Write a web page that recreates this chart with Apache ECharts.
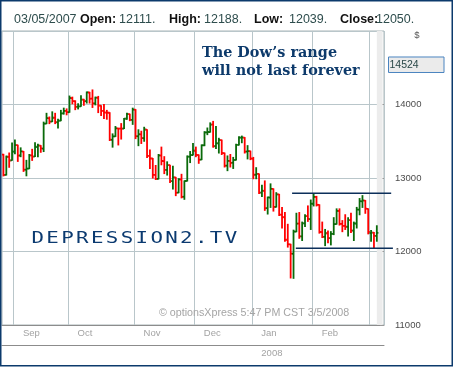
<!DOCTYPE html>
<html><head><meta charset="utf-8">
<script src="https://cdn.jsdelivr.net/npm/echarts@6/dist/echarts.min.js"></script>
<style>html,body{margin:0;padding:0;background:#fff;overflow:hidden}#c{width:454px;height:367px}</style>
</head><body><div id="c"></div>
<script>
// ---------- data ----------
const dates = [
'2007-08-28','2007-08-29','2007-08-30','2007-08-31',
'2007-09-04','2007-09-05','2007-09-06','2007-09-07','2007-09-10','2007-09-11','2007-09-12','2007-09-13','2007-09-14',
'2007-09-17','2007-09-18','2007-09-19','2007-09-20','2007-09-21','2007-09-24','2007-09-25','2007-09-26','2007-09-27','2007-09-28',
'2007-10-01','2007-10-02','2007-10-03','2007-10-04','2007-10-05','2007-10-08','2007-10-09','2007-10-10','2007-10-11','2007-10-12',
'2007-10-15','2007-10-16','2007-10-17','2007-10-18','2007-10-19','2007-10-22','2007-10-23','2007-10-24','2007-10-25','2007-10-26',
'2007-10-29','2007-10-30','2007-10-31',
'2007-11-01','2007-11-02','2007-11-05','2007-11-06','2007-11-07','2007-11-08','2007-11-09','2007-11-12','2007-11-13','2007-11-14',
'2007-11-15','2007-11-16','2007-11-19','2007-11-20','2007-11-21','2007-11-23','2007-11-26','2007-11-27','2007-11-28','2007-11-29','2007-11-30',
'2007-12-03','2007-12-04','2007-12-05','2007-12-06','2007-12-07','2007-12-10','2007-12-11','2007-12-12','2007-12-13','2007-12-14',
'2007-12-17','2007-12-18','2007-12-19','2007-12-20','2007-12-21','2007-12-24','2007-12-26','2007-12-27','2007-12-28','2007-12-31',
'2008-01-02','2008-01-03','2008-01-04','2008-01-07','2008-01-08','2008-01-09','2008-01-10','2008-01-11','2008-01-14','2008-01-15',
'2008-01-16','2008-01-17','2008-01-18','2008-01-22','2008-01-23','2008-01-24','2008-01-25','2008-01-28','2008-01-29','2008-01-30','2008-01-31',
'2008-02-01','2008-02-04','2008-02-05','2008-02-06','2008-02-07','2008-02-08','2008-02-11','2008-02-12','2008-02-13','2008-02-14',
'2008-02-15','2008-02-19','2008-02-20','2008-02-21','2008-02-22','2008-02-25','2008-02-26','2008-02-27','2008-02-28','2008-02-29',
'2008-03-03','2008-03-04','2008-03-05'
];
const open = [
13318,13043,13287,13240,
13358,13446,13306,13360,13113,13128,13308,13293,13420,
13440,13400,13740,13812,13768,13820,13757,13780,13880,13912,
13895,14087,14045,13970,13975,14065,14045,14163,14080,14015,
14090,13984,13912,13890,13888,13520,13566,13675,13673,13672,
13806,13868,13792,
13930,13568,13594,13542,13658,13300,13265,13042,12988,13306,
13230,13110,13175,12958,13008,12800,12980,12745,12960,13289,13313,
13371,13313,13250,13445,13620,13625,13728,13433,13472,13516,
13339,13168,13232,13208,13246,13450,13549,13550,13360,13365,
13262,13044,13056,12801,12826,12590,12734,12852,12606,12777,
12500,12467,12160,12098,11970,12270,12380,12206,12384,12480,12440,
12650,12743,12635,12265,12200,12248,12182,12241,12373,12552,
12376,12349,12336,12427,12285,12381,12570,12683,12693,12580,
12250,12257,12212
];
const high = [
13322,13298,13340,13476,
13517,13446,13410,13360,13240,13320,13390,13480,13460,
13440,13760,13880,13830,13900,13880,13800,13920,13950,13940,
14115,14100,14050,14010,14120,14070,14170,14165,14198,14100,
14110,13984,14000,13920,13888,13600,13700,13675,13740,13810,
13880,13868,13950,
13930,13656,13636,13690,13658,13380,13265,13170,13320,13420,
13290,13220,13175,13160,13008,12990,13050,12960,13300,13360,13470,
13420,13313,13450,13630,13680,13750,13770,13700,13540,13516,
13339,13300,13320,13280,13460,13560,13570,13550,13440,13365,
13280,13140,13056,12900,12960,12740,12920,12852,12800,12777,
12600,12530,12370,12098,12290,12520,12530,12400,12500,12620,12700,
12780,12750,12635,12400,12300,12280,12270,12460,12580,12580,
12420,12500,12460,12520,12400,12600,12720,12760,12693,12580,
12285,12257,12350
];
const low = [
13029,13041,13146,13240,
13330,13226,13290,13090,13030,13128,13240,13293,13290,
13350,13360,13740,13740,13768,13740,13680,13780,13870,13860,
13895,14010,13930,13940,13975,13990,14020,14020,13960,13995,
13890,13850,13810,13800,13510,13420,13566,13450,13530,13672,
13800,13780,13730,
13536,13440,13470,13500,13280,13130,13000,12980,12988,13180,
13060,13040,12940,12850,12760,12800,12730,12710,12960,13210,13313,
13290,13200,13250,13440,13590,13625,13420,13400,13340,13320,
13150,13100,13150,13130,13246,13450,13480,13340,13260,13250,
12990,12990,12790,12750,12560,12510,12600,12550,12606,12490,
12320,12140,12060,11640,11635,12270,12180,12150,12340,12410,12300,
12620,12620,12250,12190,12080,12120,12090,12230,12373,12360,
12270,12300,12210,12260,12150,12320,12500,12600,12520,12240,
12140,12040,12140
];
const close = [
13041,13289,13238,13358,
13448,13305,13363,13113,13127,13308,13292,13425,13442,
13403,13739,13815,13766,13820,13759,13779,13878,13913,13896,
14088,14047,13968,13975,14066,14044,14165,14079,14015,14093,
13985,13912,13892,13889,13522,13566,13676,13672,13671,13807,
13870,13792,13930,
13568,13595,13543,13660,13300,13266,13043,12988,13307,13231,
13110,13176,12958,13010,12799,12981,12744,12959,13290,13312,13372,
13315,13249,13445,13620,13626,13727,13432,13473,13518,13340,
13168,13233,13207,13245,13450,13550,13551,13359,13366,13265,
13044,13057,12800,12827,12589,12736,12853,12607,12778,12501,
12466,12159,12099,11971,12271,12378,12207,12383,12480,12443,12650,
12743,12635,12265,12200,12248,12182,12240,12373,12552,12376,
12348,12337,12427,12285,12381,12570,12684,12694,12582,12266,
12258,12213,12254
];
const monthNames = ['Jan','Feb','Mar','Apr','May','Jun','Jul','Aug','Sep','Oct','Nov','Dec'];
const yMin = 11000, yMax = 15000, yStep = 1000;
// drawn range lines: [value, start slot, end slot]
const rangeTop = [12792, 100.5, 135.0];
const rangeBottom = [12044, 101.8, 135.6];
const cursorValue = 14524;
const header = [
  ['03/05/2007', false], ['Open:', true], ['12111.', false], ['High:', true], ['12188.', false],
  ['Low:', true], ['12039.', false], ['Close:', true], ['12050.', false]
];
const titleLines = ['The Dow\u2019s range', 'will not last forever'];
const watermark = 'DEPRESSION2.TV';
const copyright = '\u00A9 optionsXpress 5:47 PM CST 3/5/2008';

// ---------- chart ----------
const UP = '#0a6a0a', DOWN = '#ff0000';
const GRID = '#b9c6ca';
const padSlots = 2;
const cats = dates.concat(Array.from({length: padSlots}, (_, k) => 'pad' + k));
const isMonthStart = i => i > 0 && i < dates.length && dates[i].slice(5, 7) !== dates[i - 1].slice(5, 7);
const isYearStart = i => i > 0 && i < dates.length && dates[i].slice(0, 4) !== dates[i - 1].slice(0, 4);
const showMonthLabel = i => isMonthStart(i) && i < dates.length - 8;
const ohlc = dates.map((d, i) => [i, open[i], high[i], low[i], close[i]]);

function renderItem(params, api) {
  const i = api.value(0);
  const o = api.coord([i, api.value(1)]);
  const h = api.coord([i, api.value(2)]);
  const l = api.coord([i, api.value(3)]);
  const c = api.coord([i, api.value(4)]);
  const w = api.size([1, 0])[0];
  const t = w * 0.55;
  const col = api.value(4) >= api.value(1) ? UP : DOWN;
  const st = {stroke: col, lineWidth: 1.8};
  return {type: 'group', children: [
    {type: 'line', shape: {x1: h[0], y1: h[1] - 0.5, x2: l[0], y2: l[1] + 0.5}, style: st},
    {type: 'line', shape: {x1: o[0] - t, y1: o[1], x2: o[0], y2: o[1]}, style: st},
    {type: 'line', shape: {x1: c[0], y1: c[1], x2: c[0] + t, y2: c[1]}, style: st}
  ]};
}

const chart = echarts.init(document.getElementById('c'), null, {renderer: 'canvas'});
const axisGray = '#8c8c8c';
const option = {
  animation: false,
  backgroundColor: '#ffffff',
  grid: {left: 2, right: 70, top: 31, bottom: 42, show: true, borderColor: '#a9b4b7', borderWidth: 1, backgroundColor: 'transparent'},
  xAxis: [{
    type: 'category', data: cats, boundaryGap: true, position: 'bottom',
    axisLine: {lineStyle: {color: axisGray}},
    axisTick: {interval: i => isMonthStart(i), length: 13, lineStyle: {color: axisGray}},
    axisLabel: {interval: i => showMonthLabel(i), formatter: v => monthNames[parseInt(v.slice(5, 7), 10) - 1],
      align: 'left', padding: [0, 0, 0, 8], margin: 3, color: '#a3a3a3', fontSize: 9.5, fontFamily: 'Liberation Sans'},
    splitLine: {show: true, interval: i => isMonthStart(i), lineStyle: {color: GRID}}
  }, {
    type: 'category', data: cats, boundaryGap: true, position: 'bottom', offset: 20,
    axisLine: {lineStyle: {color: axisGray}},
    axisTick: {interval: i => i === 0 || isYearStart(i), length: 13, lineStyle: {color: axisGray}},
    axisLabel: {interval: i => isYearStart(i), formatter: v => v.slice(0, 4),
      align: 'left', padding: [0, 0, 0, 8], margin: 3, color: '#a3a3a3', fontSize: 9.5, fontFamily: 'Liberation Sans'},
    splitLine: {show: false}
  }],
  yAxis: {
    type: 'value', position: 'right', min: yMin, max: yMax, interval: yStep,
    axisLine: {show: false},
    axisTick: {show: true, inside: true, length: 4, lineStyle: {color: '#9a9a9a'}},
    axisLabel: {showMaxLabel: false, margin: 11, color: '#4d4d4d', fontSize: 9.5, fontFamily: 'Liberation Sans',
      formatter: v => String(v)},
    splitLine: {show: true, lineStyle: {color: GRID}}
  },
  series: [{
    type: 'custom', xAxisIndex: 0, renderItem: renderItem, data: ohlc,
    encode: {x: 0, y: [1, 2, 3, 4]}, clip: true, z: 3,
    markArea: {silent: true, itemStyle: {color: '#ececec'}, data: [[{xAxis: dates.length - 1}, {xAxis: cats.length - 1}]]}
  }]
};
chart.setOption(option);

// ---------- annotations ----------
const p0 = chart.convertToPixel({xAxisIndex: 0}, 0);
const p100 = chart.convertToPixel({xAxisIndex: 0}, 100);
const slotX = s => p0 + (p100 - p0) * s / 100;
const py = v => chart.convertToPixel({yAxisIndex: 0}, v);
const g = [];
g.push({type: 'rect', shape: {x: 0.75, y: 0.75, width: 451.5, height: 365}, style: {fill: 'none', stroke: '#0c3a6c', lineWidth: 1.5}, z: 100});
// header
const headerX = [14, 80, 119, 169, 204, 254, 289, 340, 376];
header.forEach((h, k) => g.push({type: 'text', x: headerX[k], y: 20, z: 50,
  style: {text: h[0], font: (h[1] ? 'bold ' : '') + '12.5px "Liberation Sans"', fill: h[1] ? '#111111' : '#2e4d4d', verticalAlign: 'middle'}}));
// title
titleLines.forEach((t, k) => g.push({type: 'text', x: 202, y: 53 + k * 18, z: 50,
  style: {text: t, font: 'bold 14.4px "DejaVu Serif"', fill: '#0d3a6b', verticalAlign: 'middle'}}));
// watermark
watermark.split('').forEach((ch, k) => g.push({type: 'text', x: 31.5 + k * 14.86, y: 238.5, scaleX: 1.3, z: 50,
  style: {text: ch, font: '16px "DejaVu Sans Mono"', fill: '#0b3a70', verticalAlign: 'middle'}}));
g.push({type: 'text', x: 159, y: 313.5, z: 50, style: {text: copyright, font: '10.7px "Liberation Sans"', fill: '#a5a5a5', verticalAlign: 'middle'}});
g.push({type: 'text', x: 417, y: 35, z: 50, style: {text: '$', font: '9.5px "Liberation Sans"', fill: '#555555', align: 'center', verticalAlign: 'middle'}});
// cursor value box
const cy = py(cursorValue) - 1.5;
g.push({type: 'rect', shape: {x: 388.5, y: cy - 7.5, width: 55.5, height: 15.5}, style: {fill: '#ebebeb', stroke: '#4a84c0', lineWidth: 1}, z: 50});
g.push({type: 'text', x: 389.5, y: cy + 0.5, z: 51, style: {text: String(cursorValue), font: '10.5px "Liberation Sans"', fill: '#2a4848', verticalAlign: 'middle'}});
// range lines
[rangeTop, rangeBottom].forEach(r => g.push({type: 'line', z: 60,
  shape: {x1: slotX(r[1]), y1: py(r[0]), x2: slotX(r[2]), y2: py(r[0])}, style: {stroke: '#0c2f5a', lineWidth: 1.5}}));
chart.setOption({graphic: g});
</script>
</body></html>
